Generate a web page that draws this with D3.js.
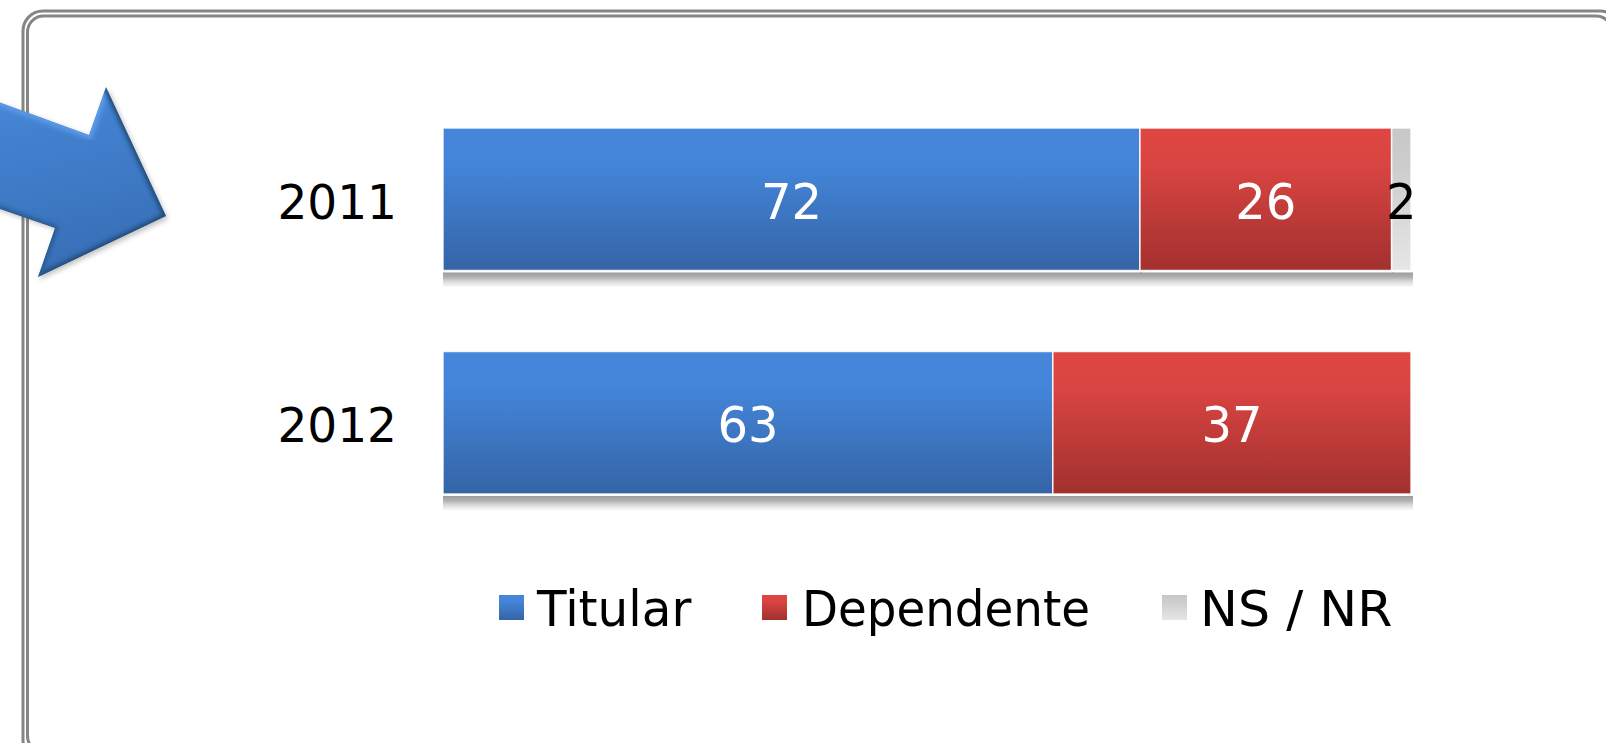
<!DOCTYPE html>
<html>
  <head>
    <meta charset="utf-8" />
    <title>Titular / Dependente</title>
    <style>
      html, body { margin: 0; padding: 0; background: #fff; }
      svg { display: block; }
      text { font-family: "DejaVu Sans", sans-serif; }
    </style>
    <script src="https://d3js.org/d3.v7.min.js"></script>
  </head>
  <body>
    <div id="chart"></div>
    <script>
      const years = ["2011", "2012"];
      const seriesNames = ["Titular", "Dependente", "NS / NR"];
      const titular = [72, 63];
      const dependente = [26, 37];
      const nsnr = [2, null];

      const width = 1606;
      const height = 743;
      const fontSize = 48;
      const stretch = 1.03; // text in the picture is a bit taller than wide

      const svg = d3.select("#chart").append("svg")
        .attr("width", width)
        .attr("height", height);
      const defs = svg.append("defs");

      function gradient(id, stops) {
        const g = defs.append("linearGradient").attr("id", id)
          .attr("x1", 0).attr("y1", 0).attr("x2", 0).attr("y2", 1);
        stops.forEach(s => g.append("stop").attr("offset", s[0]).attr("stop-color", s[1]));
      }
      gradient("g0", [[0, "#4586db"], [0.25, "#4485d9"], [1, "#3464a6"]]);
      gradient("g1", [[0, "#df4641"], [0.25, "#d94542"], [1, "#a2302e"]]);
      gradient("g2", [[0, "#c8c8c8"], [0.25, "#cccccc"], [1, "#e6e6e6"]]);
      gradient("shadow", [[0, "#9c9c9c"], [0.3, "#b0b0b0"], [0.6, "#dadada"], [1, "#ffffff"]]);

      const arrowGrad = defs.append("linearGradient").attr("id", "arrowFill")
        .attr("x1", 0.3).attr("y1", 0).attr("x2", 0.55).attr("y2", 1);
      arrowGrad.append("stop").attr("offset", 0).attr("stop-color", "#4687d8");
      arrowGrad.append("stop").attr("offset", 1).attr("stop-color", "#376eb5");
      defs.append("filter").attr("id", "blur2").append("feGaussianBlur").attr("stdDeviation", 2.2);
      defs.append("filter").attr("id", "blur3")
        .attr("x", -0.2).attr("y", -0.2).attr("width", 1.4).attr("height", 1.4)
        .append("feGaussianBlur").attr("stdDeviation", 2.5);

      // double rounded frame, runs off the page on the right and bottom
      [[23, 11, 1620, 760, 20], [27.5, 16, 1612, 752, 16]].forEach(r => {
        svg.append("rect")
          .attr("x", r[0]).attr("y", r[1])
          .attr("width", r[2] - r[0]).attr("height", r[3] - r[1])
          .attr("rx", r[4])
          .attr("fill", "none")
          .attr("stroke", "#858585")
          .attr("stroke-width", 3);
      });

      // arrow on the left
      const arrowPts = "-40,88 89,135 106,87 166,216 38,277 55,228 -40,195";
      svg.append("polygon").attr("points", "-40,90 91,137 108,89 168,219 39,280 57,230 -40,197")
        .attr("fill", "#555").attr("opacity", 0.35).attr("filter", "url(#blur3)");
      defs.append("clipPath").attr("id", "arrowClip").append("polygon").attr("points", arrowPts);
      const arrow = svg.append("g").attr("clip-path", "url(#arrowClip)");
      arrow.append("polygon").attr("points", arrowPts).attr("fill", "url(#arrowFill)");
      // bevel: light on top edges, dark on lower ones
      arrow.append("polyline").attr("points", "-40,88 89,135 106,87")
        .attr("fill", "none").attr("stroke", "#5c9ae6").attr("stroke-width", 8).attr("filter", "url(#blur2)");
      arrow.append("polyline").attr("points", "106,87 166,216 38,277")
        .attr("fill", "none").attr("stroke", "#234b78").attr("stroke-width", 6).attr("filter", "url(#blur2)");
      arrow.append("polyline").attr("points", "38,277 55,228 -40,195")
        .attr("fill", "none").attr("stroke", "#2c5a92").attr("stroke-width", 6).attr("filter", "url(#blur2)");

      const x = d3.scaleLinear().domain([0, 100]).range([443, 1411]);
      const y = d3.scaleBand().domain(years).range([128, 494]).paddingInner(0.3625);

      const series = [titular, dependente, nsnr];
      const labelColors = ["#fff", "#fff", "#000"];

      const rows = years.map((year, i) => {
        let start = 0;
        const parts = [];
        series.forEach((values, s) => {
          if (values[i] == null) return;
          parts.push({ year, s, value: values[i], start, end: start + values[i] });
          start += values[i];
        });
        return parts;
      }).flat();

      // flattened shadow below the bars
      svg.append("g").selectAll("rect").data(rows).enter().append("rect")
        .attr("x", d => x(d.start))
        .attr("y", d => y(d.year) + y.bandwidth() + 2)
        .attr("width", d => x(d.end) - x(d.start) + 2)
        .attr("height", 15)
        .attr("fill", "url(#shadow)");

      svg.append("g").selectAll("rect").data(rows).enter().append("rect")
        .attr("x", d => x(d.start))
        .attr("y", d => y(d.year))
        .attr("width", d => x(d.end) - x(d.start))
        .attr("height", y.bandwidth())
        .attr("fill", d => `url(#g${d.s})`)
        .attr("stroke", "#fff")
        .attr("stroke-opacity", 0.85)
        .attr("stroke-width", 1.5);

      // value labels
      svg.append("g").selectAll("text").data(rows).enter().append("text")
        .attr("transform", d => `translate(${(x(d.start) + x(d.end)) / 2},${y(d.year) + y.bandwidth() / 2 + 19.5}) scale(1,${stretch})`)
        .attr("text-anchor", "middle")
        .attr("font-size", fontSize)
        .attr("fill", d => labelColors[d.s])
        .text(d => d.value);

      // year axis
      const axis = svg.append("g")
        .attr("transform", `translate(${x(0)},0)`)
        .call(d3.axisLeft(y).tickSize(0).tickPadding(46));
      axis.select(".domain").remove();
      axis.selectAll("text")
        .attr("font-size", fontSize - 1)
        .attr("font-family", "'DejaVu Sans', sans-serif")
        .attr("fill", "#000")
        .attr("dy", null)
        .attr("x", null)
        .attr("transform", `translate(-46,19.5) scale(1,${stretch})`);

      // legend
      const legendSwatchX = [499, 762, 1162];
      const legendTextX = [537, 802, 1200];
      const legendTextLen = [154.5, 288, 192.5];
      const legend = svg.append("g").selectAll("g").data(seriesNames).enter().append("g");
      legend.append("rect")
        .attr("x", (d, i) => legendSwatchX[i])
        .attr("y", 595)
        .attr("width", 25)
        .attr("height", 25)
        .attr("fill", (d, i) => `url(#g${i})`);
      legend.append("text")
        .attr("transform", (d, i) => `translate(${legendTextX[i]},626) scale(1,${stretch})`)
        .attr("font-size", fontSize)
        .attr("fill", "#000")
        .attr("textLength", (d, i) => legendTextLen[i])
        .attr("lengthAdjust", "spacingAndGlyphs")
        .text(d => d);
    </script>
  </body>
</html>
